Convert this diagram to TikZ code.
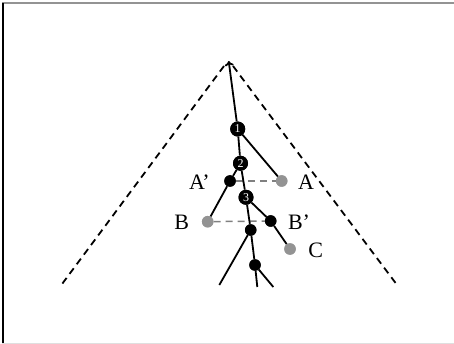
\documentclass[tikz,border=0pt]{standalone}
\usepackage{fontspec}
\setmainfont{Liberation Serif}
\usetikzlibrary{arrows.meta}
\begin{document}
\begin{tikzpicture}[x=1pt,y=-1pt,
  edge/.style={line width=1.8pt,black},
  bignum/.style={circle,fill=black,inner sep=0pt,minimum size=15pt,text=white,font=\fontsize{12}{12}\selectfont},
  bdot/.style={circle,fill=black,inner sep=0pt,minimum size=11.5pt},
  gdot/.style={circle,fill=gray!85,inner sep=0pt,minimum size=11.5pt},
  lab/.style={inner sep=0pt,font=\fontsize{22}{22}\selectfont},
  cone/.style={line width=1.8pt,dash pattern=on 7pt off 5pt},
  link/.style={line width=1.5pt,gray,dash pattern=on 7pt off 5pt}]
\useasboundingbox (0,0) rectangle (454,344);
% frame
\draw[line width=2pt,gray!85] (2,3.5) -- (454,3.5);
\draw[line width=2pt,black] (2.5,3) -- (2.5,344);
\draw[line width=1pt,gray!25] (2,343.5) -- (454,343.5);
% cone
\coordinate (apex) at (228.7,61);
\coordinate (cl) at (61.7,284.5);
\coordinate (cr) at (396.7,284.5);
\draw[cone] (224,66) -- (cl);
\draw[cone] (233,66) -- (cr);
% nodes
\node[bignum] (n1) at (237.7,129) {1};
\node[bignum] (n2) at (240.5,163.3) {2};
\node[bignum] (n3) at (246,197.3) {3};
\node[bdot] (ap) at (230,181) {};
\node[gdot] (a) at (281.7,181) {};
\node[gdot] (b) at (207.7,221.7) {};
\node[bdot] (bp) at (270.7,221) {};
\node[gdot] (c) at (290,249) {};
\node[bdot] (d1) at (250.7,230) {};
\node[bdot] (d2) at (255,265) {};
\coordinate (t) at (257.3,287);
\coordinate (l1) at (219.3,285);
\coordinate (r1) at (273.3,287);
% dashed links
\draw[link] (ap) -- (a);
\draw[link] (b) -- (bp);
% trunk
\draw[edge,-{To[length=5pt,width=9pt]}] (n1) -- (apex);
\draw[edge] (n1) -- (n2);
\draw[edge] (n2) -- (n3);
\draw[edge] (n3) -- (d1);
\draw[edge] (d1) -- (d2);
\draw[edge] (d2) -- (t);
% branches
\draw[edge] (n1) -- (a);
\draw[edge] (n2) -- (ap);
\draw[edge] (ap) -- (b);
\draw[edge] (n3) -- (bp);
\draw[edge] (bp) -- (c);
\draw[edge] (d1) -- (l1);
\draw[edge] (d2) -- (r1);
% redraw nodes on top
\node[bignum] at (n1) {1};
\node[bignum] at (n2) {2};
\node[bignum] at (n3) {3};
\node[bdot] at (ap) {};
\node[gdot] at (a) {};
\node[gdot] at (b) {};
\node[bdot] at (bp) {};
\node[gdot] at (c) {};
\node[bdot] at (d1) {};
\node[bdot] at (d2) {};
% labels
\node[lab,anchor=east] (lap) at (210,182.5) {A’};
\node[lab] (la) at (306,182.5) {A};
\node[lab] (lb) at (181.7,222.7) {B};
\node[lab] (lbp) at (299,222.5) {B’};
\node[lab] (lc) at (315.7,250.5) {C};
\end{tikzpicture}
\end{document}
